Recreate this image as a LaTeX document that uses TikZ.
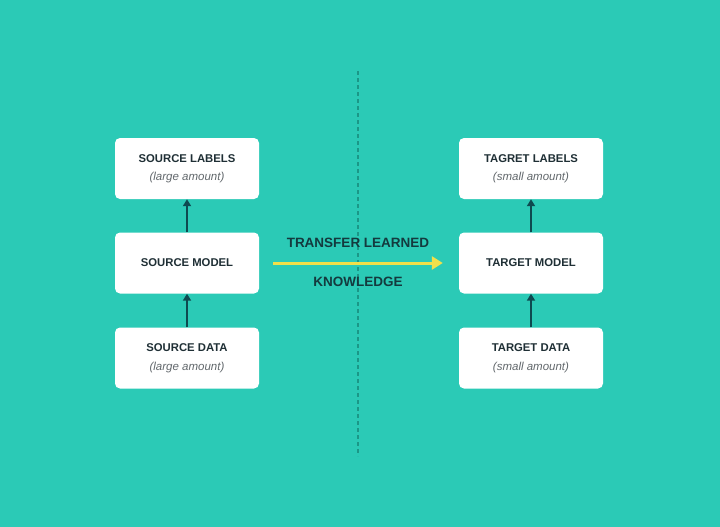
\documentclass[tikz,border=0pt]{standalone}
\usepackage{fontspec}
\setmainfont{Liberation Sans}
\usetikzlibrary{arrows.meta}
\definecolor{bgteal}{HTML}{2BCAB6}
\definecolor{titlec}{HTML}{1F2F35}
\definecolor{subc}{HTML}{62686C}
\definecolor{arrowc}{HTML}{0E4A50}
\definecolor{yel}{HTML}{F1E04A}
\definecolor{dashc}{HTML}{1B9787}
\definecolor{midtxt}{HTML}{143A3E}
\newcommand{\ttlfont}{\fontsize{11.3}{13}\selectfont\bfseries}
\newcommand{\subfont}{\fontsize{11.5}{13}\selectfont\itshape}
\begin{document}
\begin{tikzpicture}[x=1pt,y=-1pt,
  box/.style={draw=none,fill=white,rounded corners=5pt,minimum width=144pt,minimum height=61pt,inner sep=0pt,align=center,font=\fontsize{11}{18.5}\selectfont},
  up/.style={draw=arrowc,line width=2pt,-{Triangle[length=7pt,width=8pt]}},
  mid/.style={font=\fontsize{13.5}{15}\selectfont\bfseries,text=midtxt},
]
\fill[bgteal] (0,0) rectangle (720,527);
\useasboundingbox (0,0) rectangle (720,527);
\coordinate (dtop) at (358,71);
\coordinate (dbot) at (358,456);
\draw[dashc,line width=1.5pt,dash pattern=on 4pt off 3pt] (dtop) -- (dbot);

\node[box] (sl) at (187,168.5) {\textcolor{titlec}{\ttlfont SOURCE LABELS}\\\textcolor{subc}{\subfont (large amount)}};
\node[box] (sm) at (187,263) {\textcolor{titlec}{\ttlfont SOURCE MODEL}};
\node[box] (sd) at (187,358) {\textcolor{titlec}{\ttlfont SOURCE DATA}\\\textcolor{subc}{\subfont (large amount)}};

\node[box] (tl) at (531,168.5) {\textcolor{titlec}{\ttlfont TAGRET LABELS}\\\textcolor{subc}{\subfont (small amount)}};
\node[box] (tm) at (531,263) {\textcolor{titlec}{\ttlfont TARGET MODEL}};
\node[box] (td) at (531,358) {\textcolor{titlec}{\ttlfont TARGET DATA}\\\textcolor{subc}{\subfont (small amount)}};

\draw[up] (sd.north) -- (sm.south);
\draw[up] (sm.north) -- (sl.south);
\draw[up] (td.north) -- (tm.south);
\draw[up] (tm.north) -- (tl.south);

\coordinate (ys) at ([xshift=14pt]sm.east);
\coordinate (ye) at ([xshift=-16pt]tm.west);
\draw[yel,line width=3pt,-{Triangle[length=11pt,width=13pt]}] (ys) -- (ye);
\node[mid] (t1) at (358,243) {TRANSFER LEARNED};
\node[mid] (t2) at (358,282) {KNOWLEDGE};
\end{tikzpicture}
\end{document}
